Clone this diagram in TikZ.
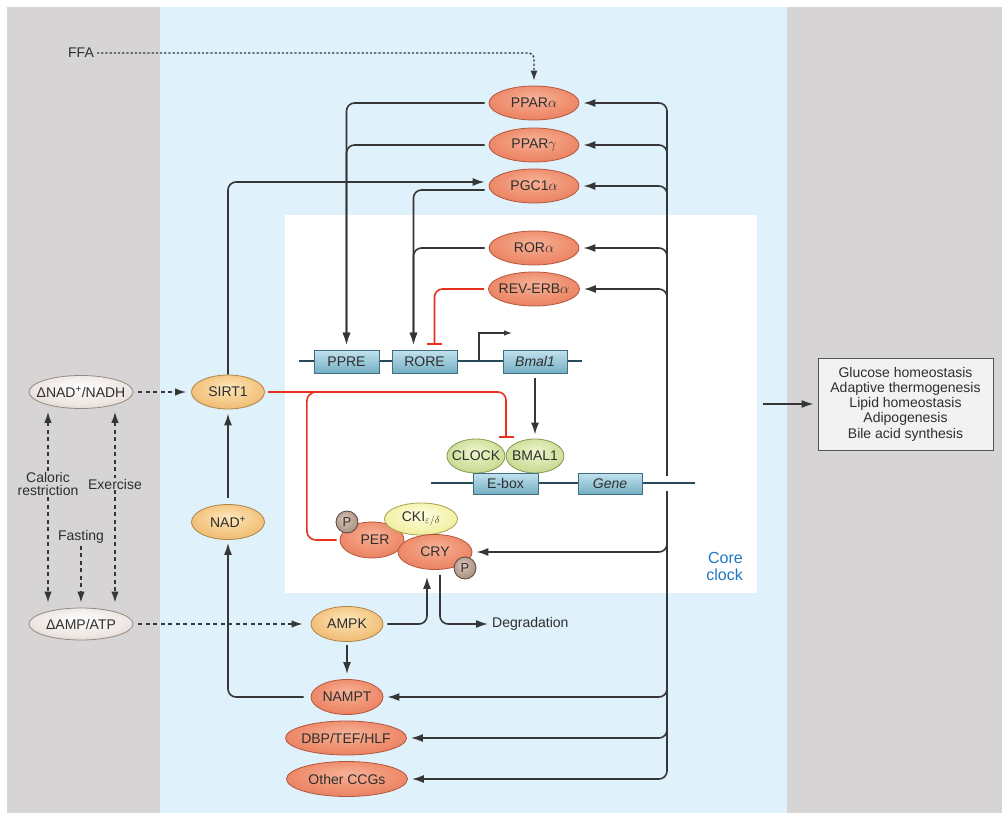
\documentclass[tikz,border=0pt]{standalone}
\usepackage{fontspec}
\setmainfont{Liberation Sans}
\usetikzlibrary{arrows.meta,calc,shapes.geometric}

\definecolor{bggray}{HTML}{D6D4D5}
\definecolor{bgblue}{HTML}{DFF1FB}
\definecolor{ink}{HTML}{363636}
\definecolor{txt}{HTML}{2E2E2E}
\definecolor{inhred}{HTML}{E8321E}
\definecolor{dna}{HTML}{27495A}
\definecolor{coreblue}{HTML}{1F78C1}
\definecolor{boxfill}{HTML}{F2F2F2}
\definecolor{boxline}{HTML}{555555}
\definecolor{salA}{HTML}{F7B197}
\definecolor{salB}{HTML}{EE8C6C}
\definecolor{salC}{HTML}{D26246}
\definecolor{salD}{HTML}{B4563C}
\definecolor{tanA}{HTML}{FDE6BA}
\definecolor{tanB}{HTML}{F3C581}
\definecolor{tanC}{HTML}{D69F58}
\definecolor{tanD}{HTML}{B08446}
\definecolor{gryA}{HTML}{FFFFFF}
\definecolor{gryB}{HTML}{EEE7E3}
\definecolor{gryC}{HTML}{BDB0A9}
\definecolor{gryD}{HTML}{958882}
\definecolor{grnA}{HTML}{EEF5CC}
\definecolor{grnB}{HTML}{D0E09E}
\definecolor{grnC}{HTML}{A8BF6C}
\definecolor{grnD}{HTML}{7F984C}
\definecolor{ylwA}{HTML}{FEFEE2}
\definecolor{ylwB}{HTML}{F4F2AC}
\definecolor{ylwC}{HTML}{D8D46C}
\definecolor{ylwD}{HTML}{A7A24E}
\definecolor{phoA}{HTML}{DCC8BC}
\definecolor{phoB}{HTML}{B49C8E}
\definecolor{phoC}{HTML}{7E6557}
\definecolor{phoD}{HTML}{5A4840}
\definecolor{boxA}{HTML}{C2E2EE}
\definecolor{boxB}{HTML}{74AFC3}
\definecolor{boxD}{HTML}{3F6E80}

\pgfdeclareradialshading{salS}{\pgfpoint{0bp}{8bp}}{color(0bp)=(salA);color(22bp)=(salB);color(50bp)=(salC)}
\pgfdeclareradialshading{tanS}{\pgfpoint{0bp}{8bp}}{color(0bp)=(tanA);color(22bp)=(tanB);color(50bp)=(tanC)}
\pgfdeclareradialshading{gryS}{\pgfpoint{0bp}{8bp}}{color(0bp)=(gryA);color(22bp)=(gryB);color(50bp)=(gryC)}
\pgfdeclareradialshading{grnS}{\pgfpoint{0bp}{8bp}}{color(0bp)=(grnA);color(22bp)=(grnB);color(50bp)=(grnC)}
\pgfdeclareradialshading{ylwS}{\pgfpoint{0bp}{8bp}}{color(0bp)=(ylwA);color(22bp)=(ylwB);color(50bp)=(ylwC)}
\pgfdeclareradialshading{phoS}{\pgfpoint{-6bp}{8bp}}{color(0bp)=(phoA);color(22bp)=(phoB);color(50bp)=(phoC)}

\pgfdeclarelayer{back}
\pgfdeclarelayer{lines}
\pgfsetlayers{back,lines,main}

\newcommand{\cz}[1]{\makebox[0pt]{#1}}

\tikzset{
  ell/.style={ellipse, inner sep=0pt, shade, shading=#1S, draw=#1D, line width=0.8pt,
    font=\fontsize{14}{16}\selectfont, text=txt},
  gbox/.style={rectangle, inner sep=0pt, top color=boxA, bottom color=boxB, draw=boxD,
    line width=0.8pt, minimum width=65pt, minimum height=23pt,
    font=\fontsize{14}{16}\selectfont, text=txt},
  pho/.style={circle, inner sep=0pt, minimum size=22pt, shade, shading=phoS, draw=phoD,
    line width=0.8pt, font=\fontsize{13}{14}\selectfont, text=txt},
  lbl/.style={font=\fontsize{14}{15}\selectfont, text=txt, inner sep=1pt, align=center},
  arr/.style={draw=ink, line width=1.6pt, rounded corners=8pt, -{Latex[length=12pt,width=8pt]}},
  inh/.style={draw=inhred, line width=1.6pt, rounded corners=8pt, -{Bar[width=15pt,line width=2pt]}},
  redline/.style={draw=inhred, line width=1.6pt, rounded corners=9pt},
  darr/.style={draw=ink, line width=1.5pt, dash pattern=on 4pt off 3.5pt, -{Latex[length=11pt,width=7.5pt]}},
  ddarr/.style={darr, {Latex[length=11pt,width=7.5pt]}-{Latex[length=11pt,width=7.5pt]}},
  dotarr/.style={draw=ink, line width=1.4pt, dash pattern=on 2.2pt off 2pt, rounded corners=5pt, -{Latex[length=10pt,width=7pt]}},
  thinarr/.style={draw=ink, line width=1.1pt, -{Latex[length=8pt,width=5.5pt]}},
  dnaline/.style={draw=dna, line width=1.7pt},
}

\begin{document}
\begin{tikzpicture}[x=1pt,y=-1pt]
\useasboundingbox (0,0) rectangle (1002,813);

\begin{pgfonlayer}{back}
  \fill[white] (0,0) rectangle (1002,813);
  \fill[bggray] (7,7) rectangle (1002,813);
  \fill[bgblue] (160,7) rectangle (787,813);
  \fill[white] (285,215) rectangle (757,593);
\end{pgfonlayer}

% coordinates
\coordinate (hub) at (667,483);
\coordinate (dnaL) at (299,361);
\coordinate (dnaR) at (582,361);
\coordinate (eL) at (431,483);
\coordinate (eR) at (695,483);
\coordinate (tss) at (479,361);
\coordinate (outst) at (763,404);

% nodes
\node[lbl] (ffa) at (81,53) {FFA};
\node[ell=sal, minimum width=90pt, minimum height=34pt] (ppara) at (534,103) {\cz{PPAR$\alpha$}};
\node[ell=sal, minimum width=90pt, minimum height=34pt] (pparg) at (534,145) {\cz{PPAR$\gamma$}};
\node[ell=sal, minimum width=90pt, minimum height=34pt] (pgc) at (534,186) {\cz{PGC1$\alpha$}};
\node[ell=sal, minimum width=90pt, minimum height=34pt] (rora) at (534,248) {\cz{ROR$\alpha$}};
\node[ell=sal, minimum width=91pt, minimum height=34pt] (reverb) at (534,289) {\cz{REV-ERB$\alpha$}};

\node[gbox] (ppre) at (346.5,361.5) {PPRE};
\node[gbox] (rore) at (424.5,361.5) {RORE};
\node[gbox, minimum width=64pt] (bmalg) at (535,361.5) {\itshape Bmal1};

\node[ell=grn, minimum width=58pt, minimum height=34pt] (clock) at (476,456) {\cz{CLOCK}};
\node[ell=grn, minimum width=58pt, minimum height=34pt] (bmalp) at (535,456) {\cz{BMAL1}};
\node[gbox, minimum height=21pt] (ebox) at (505.5,483.5) {E-box};
\node[gbox, minimum height=21pt, minimum width=64pt] (gene) at (610,483.5) {\itshape Gene};

\node[ell=sal, minimum width=64pt, minimum height=36pt] (per) at (372,540) {\cz{\hspace*{6pt}PER}};
\node[ell=ylw, minimum width=73pt, minimum height=32pt] (cki) at (421,519) {\cz{CKI$_{\varepsilon/\delta}$}};
\node[ell=sal, minimum width=74pt, minimum height=35pt] (cry) at (435,552) {\cz{CRY}};
\node[pho] (pA) at (347,522) {P};
\node[pho] (pB) at (465,568) {P};

\node[ell=gry, minimum width=104pt, minimum height=33pt] (nadh) at (81,392) {\cz{ΔNAD\textsuperscript{+}/NADH}};
\node[ell=gry, minimum width=104pt, minimum height=32pt] (amp) at (81,624) {\cz{ΔAMP/ATP}};
\node[ell=tan, minimum width=73pt, minimum height=34pt] (sirt) at (228,392) {\cz{SIRT1}};
\node[ell=tan, minimum width=73pt, minimum height=35pt] (nad) at (228,522) {\cz{NAD\textsuperscript{+}}};
\node[ell=tan, minimum width=72pt, minimum height=35pt] (ampk) at (347,624) {\cz{AMPK}};
\node[ell=sal, minimum width=72pt, minimum height=35pt] (nampt) at (347,697) {\cz{NAMPT}};
\node[ell=sal, minimum width=121pt, minimum height=34pt] (dbp) at (346,738) {\cz{DBP/TEF/HLF}};
\node[ell=sal, minimum width=121pt, minimum height=35pt] (other) at (347,779) {\cz{Other CCGs}};

\node[lbl, fill=bggray] (calor) at (48,484) {Caloric\\[-1.5pt]restriction};
\node[lbl, fill=bggray] (exer) at (115,484) {Exercise};
\node[lbl] (fast) at (81,537) {Fasting};

\node[lbl, anchor=west, inner sep=0pt] (degr) at (492,624) {Degradation};
\node[font=\fontsize{16}{17}\selectfont, text=coreblue, align=right, anchor=east, inner sep=0pt] (core) at (743,566) {Core\\clock};

\node[draw=boxline, fill=boxfill, line width=0.9pt, minimum width=175pt, minimum height=92pt,
  align=center, font=\fontsize{14}{15.2}\selectfont, text=txt, inner sep=0pt] (outbox) at (905.5,404)
  {Glucose homeostasis\\Adaptive thermogenesis\\Lipid homeostasis\\Adipogenesis\\Bile acid synthesis};

\begin{pgfonlayer}{lines}
  % trunk from the clock-controlled gene
  \foreach \t in {ppara,pparg,pgc,rora,reverb,cry,nampt,dbp,other}
    \draw[arr, shorten >=4pt] (hub) |- (\t.east);
  \draw[arr, shorten >=4pt] (outst) -- (outbox.west);

  % DNA lines
  \draw[dnaline] (dnaL) -- (dnaR);
  \fill[white] (662,476) rectangle (672,491);
  \draw[dnaline] (eL) -- (eR);

  % FFA
  \draw[dotarr, shorten <=2pt, shorten >=5pt] (ffa.east) -| (ppara.north);

  % nuclear receptors to response elements
  \draw[arr, shorten <=4pt, shorten >=5pt] (ppara.west) -| (ppre.north);
  \draw[arr, shorten <=4pt, shorten >=5pt] (pparg.west) -| (ppre.north);
  \draw[arr, shorten <=4pt, shorten >=5pt] ($(pgc.west)+(0,4)$) -| ($(rore.north)+(-11,0)$);
  \draw[arr, shorten <=4pt, shorten >=5pt] (rora.west) -| ($(rore.north)+(-11,0)$);
  \draw[inh, shorten <=4pt, shorten >=5pt] (reverb.west) -| ($(rore.north)+(10,0)$);

  % transcription start
  \draw[thinarr] (tss) |- ++(33,-28);
  \draw[arr, shorten <=5pt, shorten >=4pt] (bmalg.south) -- (bmalp.north);

  % SIRT1
  \draw[arr, shorten >=4pt] (sirt.north) |- ($(pgc.west)+(0,-4)$);
  \draw[inh, shorten <=3pt, shorten >=1pt] (sirt.east) -| ($(bmalp.north)+(-29,0)$);
  \draw[redline] ($(per.west)+(-3,0)$) -| ($(sirt.east)+(42,0)$) -- ($(sirt.east)+(60,0)$);

  % NAD / NAMPT / AMPK
  \draw[arr, shorten <=6pt, shorten >=4pt] (nad.north) -- (sirt.south);
  \draw[arr, shorten <=7pt, shorten >=3pt] (nampt.west) -| (nad.south);
  \draw[arr, shorten <=3pt, shorten >=5pt] (ampk.south) -- (nampt.north);
  \draw[arr, shorten <=4pt, shorten >=7pt] (ampk.east) -| ($(cry.south)+(-8,0)$);
  \draw[arr, shorten <=5pt, shorten >=4pt] ($(cry.south)+(5,0)$) |- (degr.west);

  % energy state
  \draw[darr, shorten <=5pt, shorten >=5pt] (nadh.east) -- (sirt.west);
  \draw[darr, shorten <=5pt, shorten >=8pt] (amp.east) -- (ampk.west);
  \draw[ddarr, shorten <=3pt, shorten >=5pt] ($(nadh.south)+(-33,0)$) -- ($(amp.north)+(-33,0)$);
  \draw[ddarr, shorten <=3pt, shorten >=5pt] ($(nadh.south)+(34,0)$) -- ($(amp.north)+(34,0)$);
  \draw[darr, shorten <=1pt, shorten >=5pt] (fast.south) -- (fast.south |- amp.north);
\end{pgfonlayer}
\end{tikzpicture}
\end{document}
